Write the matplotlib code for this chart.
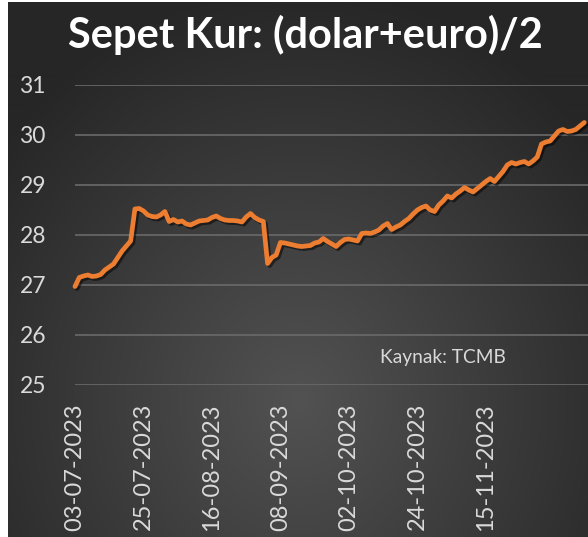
"""Sepet kur grafiği: (dolar+euro)/2, TCMB verisi."""
import matplotlib.pyplot as plt
import matplotlib.patheffects as pe
import numpy as np

# Günlük sepet kur değerleri (iş günleri, 03-07-2023'ten itibaren)
sepet = [
    26.97, 27.15, 27.18, 27.20, 27.17, 27.18, 27.21, 27.30, 27.36, 27.42,
    27.55, 27.68, 27.78, 27.88, 28.52, 28.53, 28.48, 28.40, 28.37, 28.36,
    28.40, 28.47, 28.27, 28.31, 28.26, 28.28, 28.22, 28.20, 28.24, 28.28,
    28.29, 28.30, 28.35, 28.38, 28.33, 28.30, 28.29, 28.29, 28.28, 28.26,
    28.36, 28.43, 28.35, 28.30, 28.27, 27.43, 27.55, 27.60, 27.85, 27.84,
    27.82, 27.80, 27.78, 27.77, 27.78, 27.79, 27.84, 27.86, 27.93, 27.87,
    27.82, 27.77, 27.85, 27.91, 27.92, 27.90, 27.88, 28.03, 28.04, 28.03,
    28.06, 28.10, 28.18, 28.23, 28.11, 28.16, 28.20, 28.27, 28.33, 28.42,
    28.50, 28.55, 28.58, 28.50, 28.47, 28.60, 28.68, 28.78, 28.74, 28.82,
    28.88, 28.95, 28.90, 28.86, 28.93, 29.00, 29.07, 29.13, 29.07, 29.17,
    29.27, 29.40, 29.45, 29.42, 29.45, 29.47, 29.42, 29.48, 29.56, 29.82,
    29.86, 29.88, 29.98, 30.08, 30.11, 30.07, 30.08, 30.11, 30.18, 30.25,
]
tarih_etiket = [
    "03-07-2023", "25-07-2023", "16-08-2023", "08-09-2023",
    "02-10-2023", "24-10-2023", "15-11-2023",
]
y_ticks = [25, 26, 27, 28, 29, 30, 31]

W, H = 588, 537
fig = plt.figure(figsize=(W / 100, H / 100), dpi=100)
fig.patch.set_facecolor("white")

# arka plan: koyu radyal gradyan
bg = fig.add_axes([8 / W, 0, 1 - 8 / W, 1 - 2 / H])
bg.set_axis_off()
yy, xx = np.mgrid[0:H, 0:W - 8]
r = np.hypot((xx - 290) / 380, (yy - 400) / 420)
g = 82 - (82 - 38) * np.clip(r, 0, 1)
img = np.dstack([g, g, g]) / 255
bg.imshow(img, aspect="auto", interpolation="bilinear")

ax = fig.add_axes([75 / W, (H - 385) / H, 1 - 75 / W, 300 / H])
ax.patch.set_alpha(0)
x = np.arange(len(sepet))
ax.plot(
    x, sepet, color="#ED7D31", lw=3.4, solid_joinstyle="round",
    solid_capstyle="round", clip_on=False, zorder=3,
    path_effects=[pe.SimpleLineShadow(offset=(1.5, -1.5), alpha=0.5), pe.Normal()],
)
ax.set_xlim(0, (W - 75) / 4.28)
ax.set_ylim(25, 31)
ax.set_yticks(y_ticks)
ax.set_yticklabels([str(v) for v in y_ticks])
ax.set_xticks(np.arange(0, len(sepet), 16)[: len(tarih_etiket)])
ax.set_xticklabels(tarih_etiket, rotation=90)
ax.grid(axis="y", color="#6a6a6a", lw=1.2)
ax.set_axisbelow(True)
for s in ax.spines.values():
    s.set_visible(False)
ax.tick_params(length=0)
for lab in ax.get_yticklabels():
    lab.set(fontfamily="Lato", fontsize=16.5, color="#d9d9d9", ha="left")
for lab in ax.get_xticklabels():
    lab.set(fontfamily="Lato", fontsize=17, color="#d9d9d9")
ax.tick_params(axis="y", pad=40)
ax.tick_params(axis="x", pad=13)

fig.text(305 / W, 1 - 35 / H, "Sepet Kur: (dolar+euro)/2", ha="center", va="center",
         fontfamily="Lato", fontweight="bold", fontsize=30, color="white")
fig.text(380 / W, 1 - 358 / H, "Kaynak: TCMB", ha="left", va="center",
         fontfamily="Lato", fontsize=13.8, color="#d9d9d9")

fig.savefig("out.png", dpi=100)
